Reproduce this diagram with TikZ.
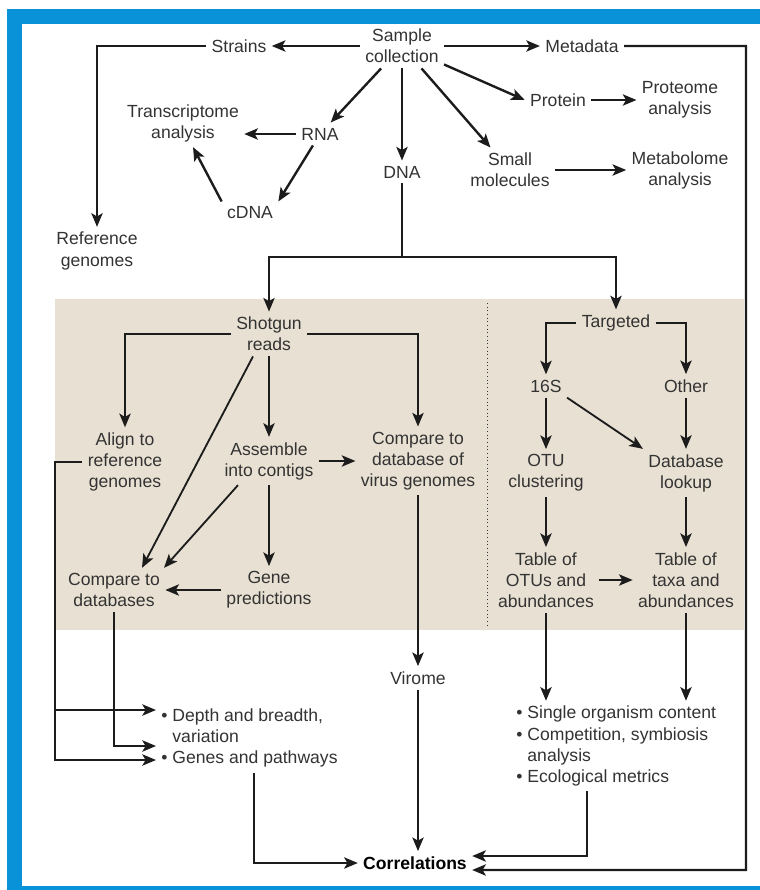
\documentclass[tikz,border=0pt]{standalone}
\usepackage{fontspec}
\setmainfont{Liberation Sans}
\usetikzlibrary{arrows.meta}
\definecolor{cblue}{HTML}{0A92D8}
\definecolor{cbeige}{HTML}{E8E1D3}
\definecolor{ctext}{HTML}{333333}
\definecolor{cline}{HTML}{1C1C1C}
\tikzset{
  every picture/.style={line width=1.7pt},
  stage/.style={align=center, text=ctext, inner sep=3pt, font=\fontsize{12.5}{15}\selectfont},
  bullets/.style={stage, anchor=west, align=left},
  result/.style={stage, font=\fontsize{12.5}{15}\selectfont\bfseries, text=black},
  arrow/.style={-{Stealth[length=3.4mm, width=2.8mm, inset=0.8mm]}, draw=cline},
  line/.style={draw=cline},
}

\begin{document}
\begin{tikzpicture}[x=0.025cm, y=-0.025cm]
  \useasboundingbox (0,0) rectangle (760,890);
  % frame and panel
  \fill[white] (0,0) rectangle (760,890);
  \fill[cblue] (7,9) rectangle (760,24);
  \fill[cblue] (7,9) rectangle (22,890);
  \fill[cblue] (7,886) rectangle (760,890);
  \fill[cbeige] (55,299) rectangle (744,630);
  \draw[dotted, line width=0.6pt, ctext] (487,303) -- (487,627);

  % Top: sample and what comes out of it
  \node[stage] (sample) at (402,46) {Sample\\collection};
  \node[stage] (strains) at (239,46) {Strains};
  \node[stage] (metadata) at (582,46) {Metadata};
  \node[stage] (refgen) at (97,251) {Reference\\genomes};
  \node[stage] (transcr) at (183,123) {Transcriptome\\analysis};
  \node[stage] (rna) at (320,134) {RNA};
  \node[stage] (cdna) at (250,213) {cDNA};
  \node[stage] (dna) at (402,172) {DNA};
  \node[stage] (protein) at (558,100) {Protein};
  \node[stage] (proteome) at (680,100) {Proteome\\analysis};
  \node[stage] (smallmol) at (510,170) {Small\\molecules};
  \node[stage] (metabolome) at (680,170) {Metabolome\\analysis};

  % Left panel: shotgun
  \node[stage] (shotgun) at (269,334) {Shotgun\\reads};
  \node[stage] (align) at (125,462) {Align to\\reference\\genomes};
  \node[stage] (assemble) at (269,461) {Assemble\\into contigs};
  \node[stage] (virus) at (418,461) {Compare to\\database of\\virus genomes};
  \node[stage] (compdb) at (114,590) {Compare to\\databases};
  \node[stage] (genepred) at (269,590) {Gene\\predictions};

  % Right panel: targeted
  \node[stage] (targeted) at (616,323) {Targeted};
  \node[stage] (s16) at (546,386) {16S};
  \node[stage] (other) at (686,386) {Other};
  \node[stage] (otu) at (546,473) {OTU\\clustering};
  \node[stage] (dblookup) at (686,473) {Database\\lookup};
  \node[stage] (tabotu) at (546,580) {Table of\\OTUs and\\abundances};
  \node[stage] (tabtaxa) at (686,580) {Table of\\taxa and\\abundances};

  % Bottom: outputs
  \node[bullets] (depth) at (156,738) {\textbullet\ Depth and breadth,\\\phantom{\textbullet\ }variation\\\textbullet\ Genes and pathways};
  \node[stage] (virome) at (418,678) {Virome};
  \node[bullets] (list) at (511,746) {\textbullet\ Single organism content\\\textbullet\ Competition, symbiosis\\\phantom{\textbullet\ }analysis\\\textbullet\ Ecological metrics};
  \node[result] (corr) at (415,863) {Correlations};

  \coordinate (dnasplit) at (402,257);
  \coordinate (mdcorner) at (746,870);
  \coordinate (ltop) at (55,710);
  \coordinate (lbot) at (55,760);
  \coordinate (lmid) at (0,746);

  \foreach \a/\b in {sample/strains, sample/metadata, sample/rna, sample/dna, sample/protein.west,
                     sample/smallmol, protein/proteome, smallmol/metabolome, rna/cdna.north east,
                     shotgun/assemble, assemble/virus, assemble/genepred, genepred/compdb, virus/virome,
                     s16/otu, other/dblookup, otu/tabotu, dblookup/tabtaxa, tabotu/tabtaxa}
    \draw[arrow] (\a) -- (\b);

  \draw[arrow] (rna) -- (rna -| transcr.east);
  \draw[arrow] (cdna.north west) -- ([xshift=0.25cm]transcr.south);
  \draw[arrow] (strains.west) -| (refgen.north);
  \draw[line] (dna) -- (dnasplit);
  \draw[arrow] (dnasplit) -| (shotgun);
  \draw[arrow] (dnasplit) -| (targeted);

  \draw[arrow] (shotgun.west) -| (align.north);
  \draw[arrow] (shotgun.east) -| (virus.north);
  \draw[arrow, line width=1.3pt] ([xshift=-0.4cm]shotgun.south) -- ([xshift=0.7cm]compdb.north);
  \draw[arrow, line width=1.3pt] ([xshift=-0.775cm]assemble.south) -- ([xshift=1.25cm]compdb.north);

  \draw[arrow] (targeted.west) -| (s16);
  \draw[arrow] (targeted.east) -| (other);
  \draw[arrow, line width=1.3pt] (s16.south east) -- (dblookup.north west);

  \draw[arrow] (align.west) -| (lbot) -- (lbot -| depth.west);
  \draw[arrow] (ltop) -- (ltop -| depth.west);
  \draw[arrow] (compdb) |- (lmid -| depth.west);
  \draw[arrow] ([xshift=2.45cm]depth.south west) |- (corr);
  \draw[arrow] (virome) -- (virome |- corr.north);
  \draw[arrow] (tabotu) -- (tabotu |- list.north);
  \draw[arrow] (tabtaxa) -- (tabtaxa |- list.north);
  \draw[arrow] ([xshift=1.9cm]list.south west) |- ([yshift=0.175cm]corr.east);
  \draw[arrow] (metadata.east) -| (mdcorner) -- ([yshift=-0.175cm]corr.east);
\end{tikzpicture}
\end{document}
